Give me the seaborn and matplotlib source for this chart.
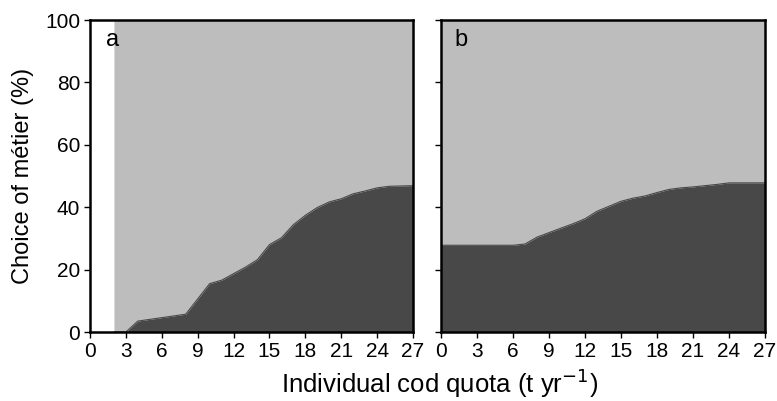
import numpy as np
import pandas as pd
import matplotlib
matplotlib.use("Agg")
import matplotlib.pyplot as plt
import seaborn as sns

# Panel a data (quota t/yr, % choosing the dark metier)
quota_a = [2, 3, 4, 6, 8, 10, 11, 12, 13, 14, 15, 16, 17, 18, 19, 20, 21, 22, 23, 24, 25, 27]
dark_a = [0, 0, 3.5, 4.6, 5.7, 15.5, 16.6, 18.7, 20.8, 23.2, 28.0, 30.2, 34.4, 37.4, 39.9, 41.7,
          42.7, 44.3, 45.2, 46.2, 46.7, 46.9]
# Panel b data
quota_b = [0, 6, 7, 8, 10, 11, 12, 13, 14, 15, 16, 17, 18, 19, 20, 21, 22, 23, 24, 27]
dark_b = [27.8, 27.8, 28.2, 30.4, 33.3, 34.7, 36.3, 38.7, 40.3, 41.9, 42.9, 43.6, 44.7, 45.7,
          46.2, 46.5, 46.9, 47.3, 47.8, 47.8]
xticks = [0, 3, 6, 9, 12, 15, 18, 21, 24, 27]
yticks = [0, 20, 40, 60, 80, 100]

sns.set_style("ticks", {"text.color": "black", "axes.labelcolor": "black",
                        "xtick.color": "black", "ytick.color": "black"})
plt.rcParams['font.family'] = ['Liberation Sans', 'DejaVu Sans']

LIGHT = "#bdbdbd"
DARK = "#484848"

W, H = 777, 401
fig = plt.figure(figsize=(W / 100, H / 100), dpi=100)
axa = fig.add_axes([90 / W, 1 - 332 / H, 323 / W, 312 / H])
axb = fig.add_axes([441 / W, 1 - 332 / H, 324 / W, 312 / H])

for ax, qx, dy, lab, lx in [(axa, quota_a, dark_a, "a", 0.05), (axb, quota_b, dark_b, "b", 0.04)]:
    df = pd.DataFrame({"quota": qx, "dark": dy})
    ax.fill_between(df["quota"], df["dark"], 100, color=LIGHT, lw=0, zorder=1)
    ax.fill_between(df["quota"], 0, df["dark"], color=DARK, lw=0, zorder=2)
    sns.lineplot(data=df, x="quota", y="dark", ax=ax, color=DARK, lw=0.8, zorder=3)
    ax.set_xlim(0, 27)
    ax.set_ylim(0, 100)
    ax.set_xticks(xticks)
    ax.set_yticks(yticks)
    for s in ax.spines.values():
        s.set_linewidth(1.8)
        s.set_color("black")
        s.set_zorder(5)
    ax.tick_params(direction="out", length=4, width=1, labelsize=13, pad=3, colors="black")
    ax.set_xlabel("")
    ax.set_ylabel("")
    ax.text(lx, 0.935, lab, transform=ax.transAxes, fontsize=17, va="center", ha="left",
            color="black", zorder=6)
    for t in ax.get_xticklabels() + ax.get_yticklabels():
        t.set_family(['Liberation Sans Narrow', 'Liberation Sans', 'DejaVu Sans'])
        t.set_fontsize(15)

axb.set_yticklabels([])
axa.set_ylabel("Choice of métier (%)", fontsize=17, labelpad=8, color="black")
fig.text(440 / W, 1 - 383 / H, "Individual cod quota (t yr$^{-1}$)", ha="center", va="center",
         fontsize=18.5, color="black")

fig.savefig("out.png", dpi=100)
